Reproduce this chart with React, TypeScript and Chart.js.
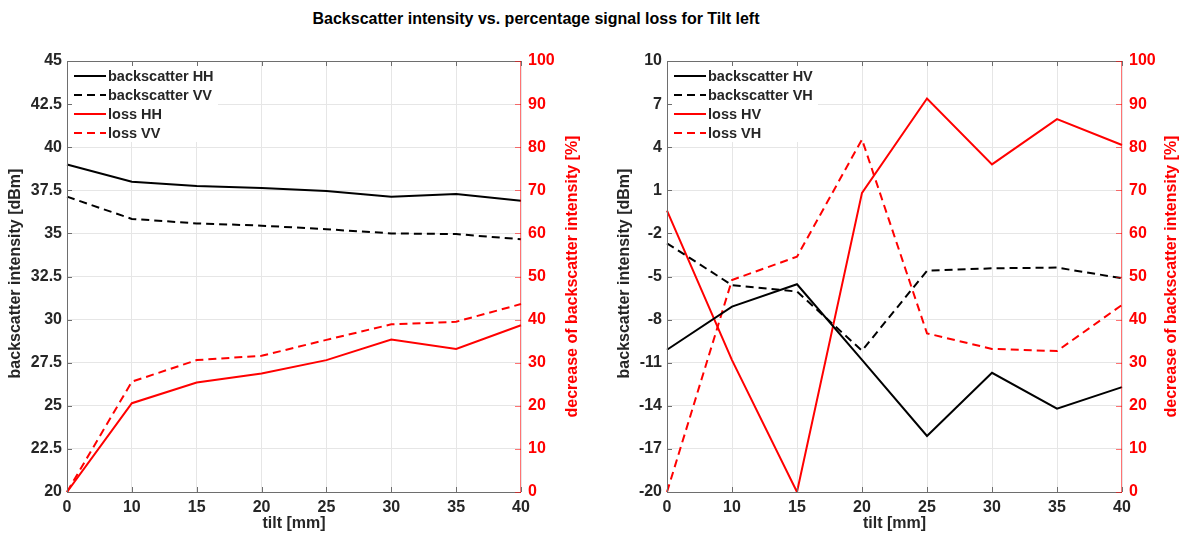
import React, { useEffect, useRef } from "react";
import { Chart, registerables } from "chart.js";

Chart.register(...registerables);

const TITLE = "Backscatter intensity vs. percentage signal loss for Tilt left";
const X_LABELS = ["0", "10", "15", "20", "25", "30", "35", "40"];

const HH = [39.0, 38.0, 37.75, 37.63, 37.46, 37.13, 37.28, 36.9];
const VV = [37.13, 35.84, 35.58, 35.45, 35.24, 35.0, 34.96, 34.66];
const LOSS_HH = [0, 20.6, 25.4, 27.5, 30.6, 35.4, 33.2, 38.7];
const LOSS_VV = [0, 25.6, 30.6, 31.6, 35.3, 38.9, 39.5, 43.6];

const HV = [-10.1, -7.1, -5.54, -10.8, -16.1, -11.7, -14.2, -12.7];
const VH = [-2.69, -5.6, -6.05, -10.16, -4.6, -4.43, -4.38, -5.12];
const LOSS_HV = [65.3, 30.6, 0, 69.4, 91.3, 76.0, 86.5, 80.5];
const LOSS_VH = [0, 49.2, 54.6, 81.8, 36.8, 33.2, 32.7, 43.4];

const LEFT_NAMES = ["backscatter HH", "backscatter VV", "loss HH", "loss VV"];
const RIGHT_NAMES = ["backscatter HV", "backscatter VH", "loss HV", "loss VH"];

const FONT = "'Liberation Sans', Arial, Helvetica, sans-serif";
const AXIS_GRAY = "#6e6e6e";
const TEXT_DARK = "#262626";
const RED = "#ff0000";
const DASH = [8, 5];

type Cfg = {
  names: string[];
  bs1: number[];
  bs2: number[];
  l1: number[];
  l2: number[];
  yMin: number;
  yMax: number;
  yStep: number;
  leftW: number;
  rightW: number;
  leftTitleX: number;
  rightTitleX: number;
};

function makePlugin(cfg: Cfg) {
  return {
    id: "matlabFrame",
    afterDatasetsDraw(chart: any) {
      const ctx = chart.ctx;
      const { left, top } = chart.chartArea;
      ctx.save();
      ctx.fillStyle = "#ffffff";
      ctx.fillRect(left + 1, top + 1, 150, 80);
      const styles = [
        { c: "#000000", d: [] as number[] },
        { c: "#000000", d: DASH },
        { c: RED, d: [] as number[] },
        { c: RED, d: DASH },
      ];
      ctx.font = `bold 14.5px ${FONT}`;
      ctx.textBaseline = "middle";
      ctx.textAlign = "left";
      cfg.names.forEach((n, i) => {
        const y = top + 15 + i * 19;
        ctx.strokeStyle = styles[i].c;
        ctx.lineWidth = 2;
        ctx.setLineDash(styles[i].d);
        ctx.beginPath();
        ctx.moveTo(left + 7, y);
        ctx.lineTo(left + 39, y);
        ctx.stroke();
        ctx.setLineDash([]);
        ctx.fillStyle = TEXT_DARK;
        ctx.fillText(n, left + 41, y + 1);
      });
      ctx.restore();
    },
    afterDraw(chart: any) {
      const ctx = chart.ctx;
      const { left, right, top, bottom } = chart.chartArea;
      const xs = chart.scales.x;
      const ys = chart.scales.y;
      const y1 = chart.scales.y1;
      ctx.save();
      ctx.lineWidth = 1;
      ctx.strokeStyle = AXIS_GRAY;
      ctx.beginPath();
      ctx.moveTo(left + 0.5, bottom + 0.5);
      ctx.lineTo(left + 0.5, top + 0.5);
      ctx.lineTo(right, top + 0.5);
      ctx.moveTo(left, bottom + 0.5);
      ctx.lineTo(right, bottom + 0.5);
      X_LABELS.forEach((_, i) => {
        const px = Math.round(xs.getPixelForValue(i)) + 0.5;
        ctx.moveTo(px, bottom);
        ctx.lineTo(px, bottom - 5);
        ctx.moveTo(px, top);
        ctx.lineTo(px, top + 5);
      });
      ys.ticks.forEach((t: any) => {
        const py = Math.round(ys.getPixelForValue(t.value)) + 0.5;
        ctx.moveTo(left, py);
        ctx.lineTo(left + 5, py);
      });
      ctx.stroke();
      ctx.strokeStyle = "rgba(255,0,0,0.55)";
      ctx.beginPath();
      ctx.moveTo(right - 0.5, top);
      ctx.lineTo(right - 0.5, bottom + 1);
      y1.ticks.forEach((t: any) => {
        const py = Math.round(y1.getPixelForValue(t.value)) + 0.5;
        ctx.moveTo(right, py);
        ctx.lineTo(right - 6, py);
      });
      ctx.stroke();
      ctx.font = `bold 16px ${FONT}`;
      ctx.textAlign = "center";
      ctx.textBaseline = "middle";
      const cy = (top + bottom) / 2;
      ctx.fillStyle = TEXT_DARK;
      ctx.save();
      ctx.translate(cfg.leftTitleX, cy - 3);
      ctx.rotate(-Math.PI / 2);
      ctx.fillText("backscatter intensity [dBm]", 0, 0);
      ctx.restore();
      ctx.fillStyle = RED;
      ctx.save();
      ctx.translate(cfg.rightTitleX, cy);
      ctx.rotate(-Math.PI / 2);
      ctx.fillText("decrease of backscatter intensity [%]", 0, 0);
      ctx.restore();
      ctx.fillStyle = TEXT_DARK;
      ctx.fillText("tilt [mm]", (left + right) / 2, bottom + 32);
      ctx.restore();
    },
  };
}

function Panel({ cfg, x }: { cfg: Cfg; x: number }) {
  const ref = useRef<HTMLCanvasElement | null>(null);
  useEffect(() => {
    if (!ref.current) return;
    const line = (label: string, data: number[], color: string, dash: number[], axis: string) => ({
      label,
      data,
      borderColor: color,
      backgroundColor: color,
      borderWidth: 2,
      borderDash: dash,
      pointRadius: 0,
      tension: 0,
      yAxisID: axis,
    });
    const tickFont = { family: FONT, size: 16, weight: "bold" };
    const chart = new Chart(ref.current, {
      type: "line",
      data: {
        labels: X_LABELS,
        datasets: [
          line(cfg.names[0], cfg.bs1, "#000000", [], "y"),
          line(cfg.names[1], cfg.bs2, "#000000", DASH, "y"),
          line(cfg.names[2], cfg.l1, RED, [], "y1"),
          line(cfg.names[3], cfg.l2, RED, DASH, "y1"),
        ],
      },
      options: {
        animation: false,
        responsive: false,
        devicePixelRatio: 1,
        layout: { padding: { top: 31, left: 0, right: 0, bottom: 0 } },
        plugins: { legend: { display: false }, tooltip: { enabled: false }, title: { display: false } },
        scales: {
          x: {
            type: "category",
            offset: false,
            grid: { color: "#e6e6e6", drawTicks: false, lineWidth: 1 },
            border: { display: false },
            ticks: {
              color: TEXT_DARK,
              font: tickFont,
              padding: 6,
              maxRotation: 0,
              autoSkip: false,
            },
            afterFit: (s: any) => {
              s.height = 53;
            },
          },
          y: {
            type: "linear",
            position: "left",
            min: cfg.yMin,
            max: cfg.yMax,
            grid: { color: "#e6e6e6", drawTicks: false },
            border: { display: false },
            ticks: {
              stepSize: cfg.yStep,
              color: TEXT_DARK,
              font: tickFont,
              padding: 5,
            },
            afterFit: (s: any) => {
              s.width = cfg.leftW;
            },
          },
          y1: {
            type: "linear",
            position: "right",
            min: 0,
            max: 100,
            grid: { drawOnChartArea: false, drawTicks: false },
            border: { display: false },
            ticks: {
              stepSize: 10,
              color: RED,
              font: tickFont,
              padding: 7,
            },
            afterFit: (s: any) => {
              s.width = cfg.rightW;
            },
          },
        },
      },
      plugins: [makePlugin(cfg)],
    } as any);
    return () => chart.destroy();
  }, []);
  return (
    <canvas
      ref={ref}
      width={594}
      height={515}
      style={{ position: "absolute", left: x, top: 30, width: 594, height: 515 }}
    />
  );
}

const LEFT_CFG: Cfg = {
  names: LEFT_NAMES,
  bs1: HH,
  bs2: VV,
  l1: LOSS_HH,
  l2: LOSS_VV,
  yMin: 20,
  yMax: 45,
  yStep: 2.5,
  leftW: 67,
  rightW: 73,
  leftTitleX: 16,
  rightTitleX: 573,
};

const RIGHT_CFG: Cfg = {
  names: RIGHT_NAMES,
  bs1: HV,
  bs2: VH,
  l1: LOSS_HV,
  l2: LOSS_VH,
  yMin: -20,
  yMax: 10,
  yStep: 3,
  leftW: 73,
  rightW: 66,
  leftTitleX: 31,
  rightTitleX: 578,
};

export default function App() {
  return (
    <div
      style={{
        position: "absolute",
        left: 0,
        top: 0,
        width: 1188,
        height: 545,
        background: "#ffffff",
        overflow: "hidden",
        fontFamily: FONT,
      }}
    >
      <div
        style={{
          position: "absolute",
          left: 0,
          top: 10,
          width: 1072,
          textAlign: "center",
          fontWeight: "bold",
          fontSize: 16,
          lineHeight: "18px",
          color: "#000",
        }}
      >
        {TITLE}
      </div>
      <Panel cfg={LEFT_CFG} x={0} />
      <Panel cfg={RIGHT_CFG} x={594} />
    </div>
  );
}
